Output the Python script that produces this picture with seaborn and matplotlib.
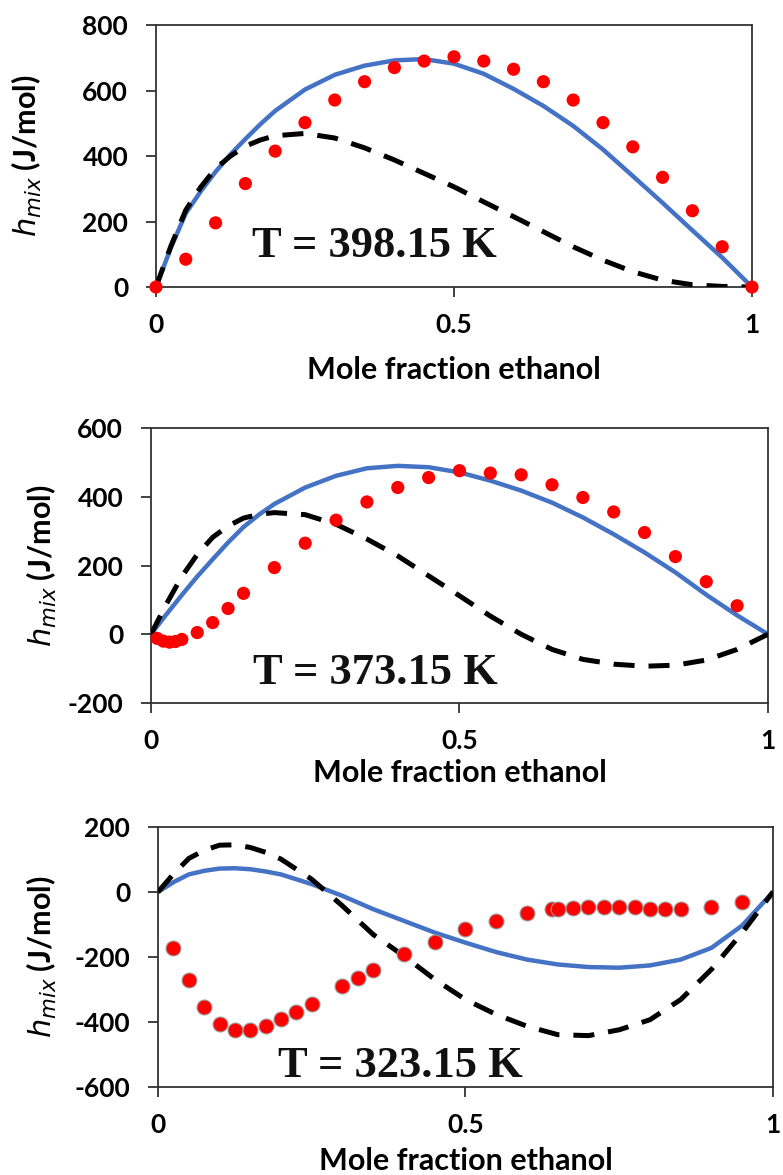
import matplotlib
matplotlib.use('Agg')
import matplotlib.pyplot as plt
import seaborn as sns
import numpy as np

# ---------------- data ----------------
x_ticks = [0, 0.5, 1]
x_tick_labels = ['0', '0.5', '1']
x_label = 'Mole fraction ethanol'
y_label = '$h_{mix}$ (J/mol)'

# model curve grid
x_model = [0, 0.025, 0.05, 0.075, 0.1, 0.125, 0.15, 0.175, 0.2, 0.25, 0.3, 0.35,
           0.4, 0.45, 0.5, 0.55, 0.6, 0.65, 0.7, 0.75, 0.8, 0.85, 0.9, 0.95, 1.0]

# Panel 1 : T = 398.15 K
t1_label = 'T = 398.15 K'
t1_yticks = [0, 200, 400, 600, 800]
t1_exp_x = [0, 0.05, 0.1, 0.15, 0.2, 0.25, 0.3, 0.35, 0.4, 0.45, 0.5,
            0.55, 0.6, 0.65, 0.7, 0.75, 0.8, 0.85, 0.9, 0.95, 1.0]
t1_exp_y = [0, 85, 196, 316, 415, 502, 571, 627, 670, 690, 703,
            690, 665, 627, 571, 502, 428, 335, 233, 123, 0]
t1_solid = [0, 120, 225, 292, 352, 405, 452, 497, 538, 603, 648, 676, 692,
            696, 682, 651, 605, 553, 492, 420, 339, 257, 173, 90, 0]
t1_dash = [0, 125, 235, 305, 362, 400, 430, 449, 462, 469, 455, 425, 388,
           347, 306, 260, 215, 169, 123, 82, 47, 21, 7, 2, 0]

# Panel 2 : T = 373.15 K
t2_label = 'T = 373.15 K'
t2_yticks = [-200, 0, 200, 400, 600]
t2_exp_x = [0.01, 0.02, 0.03, 0.04, 0.05, 0.075, 0.1, 0.125, 0.15, 0.2, 0.25,
            0.3, 0.35, 0.4, 0.45, 0.5, 0.55, 0.6, 0.65, 0.7, 0.75, 0.8,
            0.85, 0.9, 0.95]
t2_exp_y = [-12, -20, -23, -21, -15, 5, 34, 75, 119, 194, 265,
            332, 385, 427, 456, 476, 469, 464, 435, 398, 356, 296,
            226, 153, 83]
t2_solid = [0, 58, 114, 168, 218, 267, 312, 348, 379, 427, 461, 483, 490,
            486, 471, 447, 418, 383, 340, 291, 238, 180, 115, 55, 0]
t2_dash = [0, 88, 168, 232, 282, 315, 338, 349, 354, 348, 320, 277, 228,
           170, 112, 53, 0, -44, -73, -87, -93, -90, -75, -44, 0]

# Panel 3 : T = 323.15 K
t3_label = 'T = 323.15 K'
t3_yticks = [-600, -400, -200, 0, 200]
t3_exp_x = [0.025, 0.05, 0.075, 0.1, 0.125, 0.15, 0.175, 0.2, 0.225, 0.25,
            0.3, 0.325, 0.35, 0.4, 0.45, 0.5, 0.55, 0.6, 0.64, 0.65, 0.675,
            0.7, 0.725, 0.75, 0.775, 0.8, 0.825, 0.85, 0.9, 0.95]
t3_exp_y = [-172, -272, -354, -405, -424, -424, -411, -391, -370, -346,
            -290, -264, -240, -190, -153, -113, -89, -64, -51, -51, -48,
            -45, -45, -45, -46, -51, -51, -51, -45, -31]
t3_solid = [0, 30, 54, 65, 72, 73, 70, 63, 54, 24, -12, -53, -89, -125,
            -156, -185, -208, -223, -231, -233, -226, -208, -172, -103, 0]
t3_dash = [0, 55, 103, 128, 144, 145, 137, 122, 101, 39, -43, -131, -197,
           -269, -331, -377, -413, -439, -442, -424, -393, -331, -238, -125, 0]

# ---------------- style ----------------
sns.set_theme(style='white')
plt.rcParams['font.family'] = ['Lato', 'DejaVu Sans']
plt.rcParams['mathtext.fontset'] = 'dejavusans'

BLUE = '#4472C4'
RED = '#FF0000'
SPINE = '#333333'

fig = plt.figure(figsize=(7.83, 11.75), dpi=100)

panels = [
    dict(rect=[0.1992, 0.7557, 0.7612, 0.2230], ylim=(0, 800), yticks=t1_yticks,
         ex=t1_exp_x, ey=t1_exp_y, solid=t1_solid, dash=t1_dash, label=t1_label,
         tpos=(0.367, 92), ylab_x=-0.217, xlab_y=-0.317, ms=90, edge='none'),
    dict(rect=[0.1928, 0.4017, 0.7880, 0.2340], ylim=(-200, 600), yticks=t2_yticks,
         ex=t2_exp_x, ey=t2_exp_y, solid=t2_solid, dash=t2_dash, label=t2_label,
         tpos=(0.364, -146), ylab_x=-0.177, xlab_y=-0.2545, ms=90, edge='none'),
    dict(rect=[0.2018, 0.0749, 0.7854, 0.2213], ylim=(-600, 200), yticks=t3_yticks,
         ex=t3_exp_x, ey=t3_exp_y, solid=t3_solid, dash=t3_dash, label=t3_label,
         tpos=(0.394, -569), ylab_x=-0.189, xlab_y=-0.285, ms=115, edge='#9a9a9a'),
]

for p in panels:
    ax = fig.add_axes(p['rect'])
    sns.lineplot(x=x_model, y=p['solid'], ax=ax, color=BLUE, linewidth=3.2,
                 sort=False, estimator=None, zorder=2)
    sns.lineplot(x=x_model, y=p['dash'], ax=ax, color='black', linewidth=3.6,
                 linestyle=(0, (4.2, 2.8)), sort=False, estimator=None, zorder=3)
    sns.scatterplot(x=p['ex'], y=p['ey'], ax=ax, color=RED, s=p['ms'],
                    edgecolor=p['edge'], linewidth=0.8 if p['edge'] != 'none' else 0,
                    zorder=5, clip_on=False)

    ax.set_xlim(0, 1)
    ax.set_ylim(*p['ylim'])
    ax.set_xticks(x_ticks)
    ax.set_xticklabels(x_tick_labels)
    ax.set_yticks(p['yticks'])
    ax.set_yticklabels([str(v) for v in p['yticks']])

    for s in ax.spines.values():
        s.set_visible(True)
        s.set_color(SPINE)
        s.set_linewidth(1.3)
    ax.tick_params(axis='both', direction='out', length=7, width=1.3, color=SPINE,
                   labelsize=19, labelcolor='black', bottom=True, left=True)
    ax.tick_params(axis='x', pad=12)
    ax.tick_params(axis='y', pad=13)
    for lab in ax.get_xticklabels() + ax.get_yticklabels():
        lab.set_fontweight('bold')

    ax.set_xlabel(x_label, fontsize=22, fontweight='bold', color='black', va='center')
    ax.xaxis.set_label_coords(0.5, p['xlab_y'])
    ax.set_ylabel(y_label, fontsize=22, fontweight='bold', color='black', va='center')
    ax.yaxis.set_label_coords(p['ylab_x'], 0.5)

    ax.text(p['tpos'][0], p['tpos'][1], p['label'], ha='center', va='baseline',
            fontsize=32, fontweight='bold', family=['Liberation Serif', 'DejaVu Serif'],
            color='#111111', zorder=6)

fig.savefig('out.png', dpi=100)
